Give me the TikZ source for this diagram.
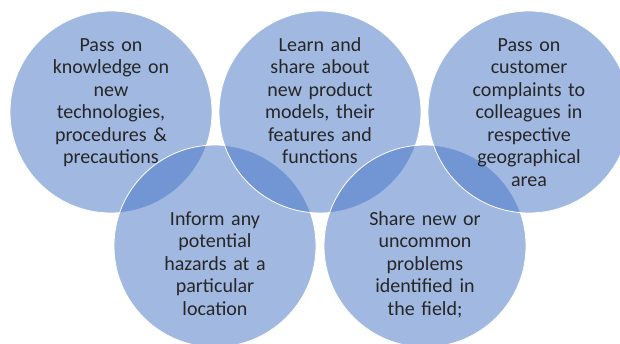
\documentclass[tikz,border=0pt]{standalone}
\usepackage{fontspec}
\setmainfont{Carlito}
\definecolor{vennblue}{HTML}{4472C4}
\definecolor{inktext}{HTML}{262626}
\begin{document}
\begin{tikzpicture}[x=1pt, y=-1pt,
        bubble/.style={circle, draw=white, line width=0.8pt, fill=vennblue, fill opacity=0.5, minimum size=202pt, inner sep=0pt},
        blurb/.style={text width=160pt, align=center, anchor=base, inner sep=0pt, text=inktext, font=\fontsize{20}{22.5}\selectfont}]
        \useasboundingbox (0,0) rectangle (620,343);
        \clip (0,0) rectangle (620,343);
        % circles, in the order they overlap
        \node[bubble] (c1) at (111,112) {};
        \node[bubble] (c4) at (215,246) {};
        \node[bubble] (c2) at (320,112) {};
        \node[bubble] (c5) at (425,246) {};
        \node[bubble] (c3) at (529,112) {};
        % texts
        \node[blurb] (t1) at (111,51) {Pass on\\knowledge on\\new\\technologies,\\procedures \&\\precautions};
        \node[blurb] (t2) at (320,51) {Learn and\\share about\\new product\\models, their\\features and\\functions};
        \node[blurb] (t3) at (529,51) {Pass on\\customer\\complaints to\\colleagues in\\respective\\geographical\\area};
        \node[blurb] (t4) at (215,225) {Inform any\\potential\\hazards at a\\particular\\location};
        \node[blurb] (t5) at (425,225) {Share new or\\uncommon\\problems\\identified in\\the field;};
\end{tikzpicture}
\end{document}
